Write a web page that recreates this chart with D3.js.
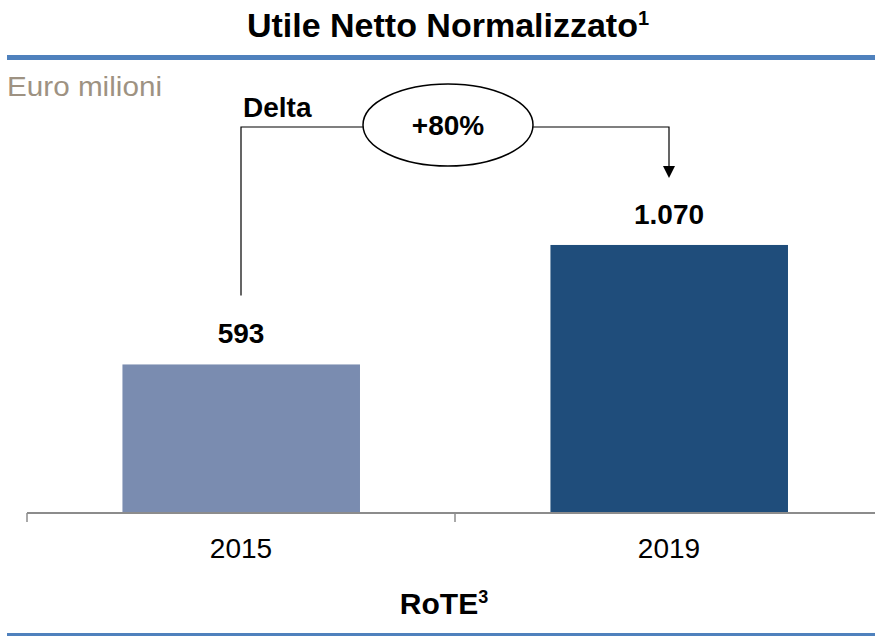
<!DOCTYPE html>
<html>
<head>
<meta charset="utf-8">
<script src="https://cdn.jsdelivr.net/npm/d3@7"></script>
<style>
  body { margin: 0; background: #fff; }
  svg { display: block; font-family: "Liberation Sans", Arial, sans-serif; }
</style>
</head>
<body>
<svg id="chart" width="875" height="638"></svg>
<script>
// Data
var years = ['2015', '2019'];
var values = [593, 1070];
var valueLabels = ['593', '1.070'];
var barColors = ['#7a8cb0', '#1f4d7b'];
var deltaLabel = '+80%';

var svg = d3.select('#chart');

var width = 875,
    axisY = 513;

// Scales
var x = d3.scaleBand().domain(years).range([27, 883]);
var y = d3.scaleLinear().domain([0, 1400]).range([axisY, axisY - 1400 * 0.2505]);

// Title
var title = svg.append('text')
    .attr('x', 448).attr('y', 37)
    .attr('text-anchor', 'middle')
    .attr('font-size', 34).attr('font-weight', 'bold')
    .attr('fill', '#000');
title.append('tspan').text('Utile Netto Normalizzato');
title.append('tspan').attr('font-size', 20).attr('dy', -12).text('1');

// Rules
svg.append('rect').attr('x', 7).attr('y', 55).attr('width', width - 7).attr('height', 5).attr('fill', '#4f81bd');
svg.append('rect').attr('x', 7).attr('y', 633).attr('width', width - 7).attr('height', 3).attr('fill', '#4f81bd');

// Unit label
svg.append('text')
    .attr('x', 7).attr('y', 96)
    .attr('font-size', 27).attr('fill', '#9e9282')
    .attr('textLength', 155).attr('lengthAdjust', 'spacingAndGlyphs')
    .text('Euro milioni');

// Bars
svg.selectAll('rect.bar')
    .data(values)
    .enter().append('rect')
    .attr('class', 'bar')
    .attr('x', function(d, i) { return x(years[i]) + x.bandwidth() * 0.223; })
    .attr('width', x.bandwidth() * 0.555)
    .attr('y', function(d) { return y(d); })
    .attr('height', function(d) { return y(0) - y(d); })
    .attr('fill', function(d, i) { return barColors[i]; });

// Value labels
svg.selectAll('text.val')
    .data(values)
    .enter().append('text')
    .attr('class', 'val')
    .attr('x', function(d, i) { return x(years[i]) + x.bandwidth() / 2; })
    .attr('y', function(d) { return y(d) - 21; })
    .attr('text-anchor', 'middle')
    .attr('font-size', 28).attr('font-weight', 'bold')
    .text(function(d, i) { return valueLabels[i]; });

// Axis
var axis = svg.append('g').attr('transform', 'translate(0,' + axisY + ')');
axis.append('line')
    .attr('x1', x.range()[0]).attr('x2', width)
    .attr('stroke', '#8c8c8c').attr('stroke-width', 2);
var tickPos = years.map(function(d) { return x(d); });
axis.selectAll('line.tick')
    .data(tickPos)
    .enter().append('line')
    .attr('class', 'tick')
    .attr('x1', function(d) { return d; }).attr('x2', function(d) { return d; })
    .attr('y1', 0).attr('y2', 9)
    .attr('stroke', '#8c8c8c').attr('stroke-width', 1.5);
axis.selectAll('text')
    .data(years)
    .enter().append('text')
    .attr('x', function(d) { return x(d) + x.bandwidth() / 2; })
    .attr('y', 45)
    .attr('text-anchor', 'middle')
    .attr('font-size', 28)
    .text(function(d) { return d; });

// Delta bracket
var cx0 = x(years[0]) + x.bandwidth() / 2,
    cx1 = x(years[1]) + x.bandwidth() / 2,
    lineY = 127,
    ell = { cx: 448, cy: 125, rx: 85, ry: 41 };

svg.append('path')
    .attr('d', 'M' + cx0 + ',' + (y(values[0]) - 69) + 'V' + lineY + 'H' + (ell.cx - ell.rx))
    .attr('fill', 'none').attr('stroke', '#000').attr('stroke-width', 1.2);
svg.append('path')
    .attr('d', 'M' + (ell.cx + ell.rx) + ',' + lineY + 'H' + cx1 + 'V' + 168)
    .attr('fill', 'none').attr('stroke', '#000').attr('stroke-width', 1.2);
svg.append('path')
    .attr('d', 'M' + (cx1 - 6) + ',166L' + (cx1 + 6) + ',166L' + cx1 + ',178Z')
    .attr('fill', '#000');

svg.append('ellipse')
    .attr('cx', ell.cx).attr('cy', ell.cy).attr('rx', ell.rx).attr('ry', ell.ry)
    .attr('fill', '#fff').attr('stroke', '#000').attr('stroke-width', 1.5);
svg.append('text')
    .attr('x', ell.cx).attr('y', 135)
    .attr('text-anchor', 'middle')
    .attr('font-size', 28).attr('font-weight', 'bold')
    .text(deltaLabel);
svg.append('text')
    .attr('x', 243).attr('y', 117)
    .attr('font-size', 28).attr('font-weight', 'bold')
    .text('Delta');

// Bottom label
var rote = svg.append('text')
    .attr('x', 444).attr('y', 614)
    .attr('text-anchor', 'middle')
    .attr('font-size', 30).attr('font-weight', 'bold');
rote.append('tspan').text('RoTE');
rote.append('tspan').attr('font-size', 18).attr('dy', -11).text('3');
</script>
</body>
</html>
